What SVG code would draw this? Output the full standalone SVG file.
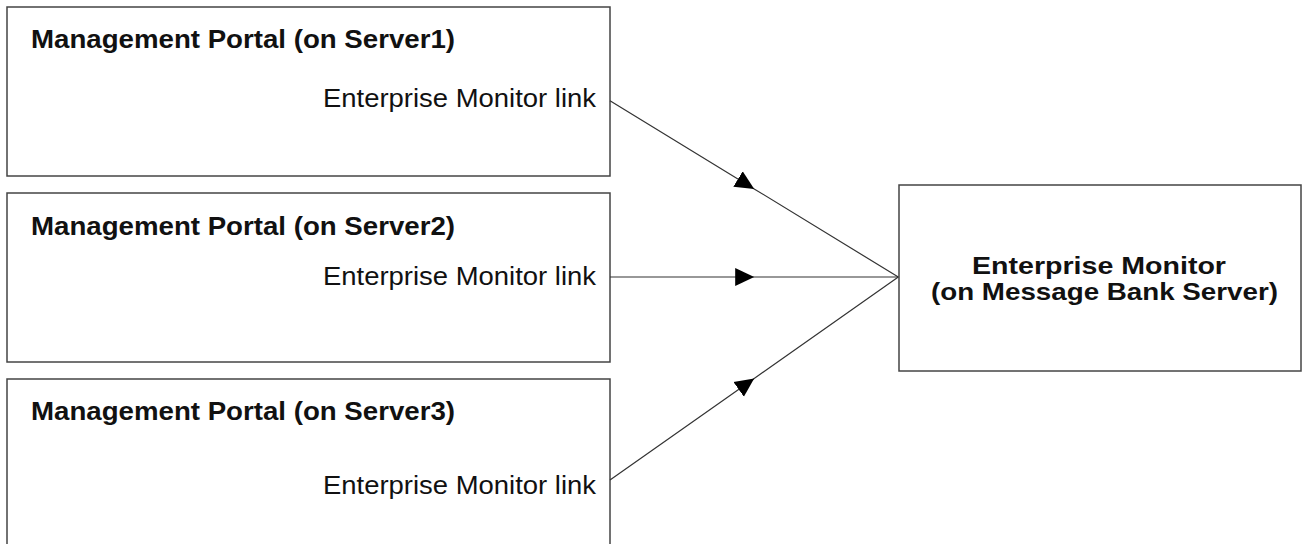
<svg xmlns="http://www.w3.org/2000/svg" width="1304" height="544" viewBox="0 0 1304 544">
<style>
  .box { fill: #ffffff; stroke: #444444; stroke-width: 1.5; }
  .title { font-family: "Liberation Sans", Arial, sans-serif; font-weight: bold; font-size: 26px; fill: #111111; }
  .link { font-family: "Liberation Sans", Arial, sans-serif; font-size: 25px; fill: #111111; }
  .em { font-family: "Liberation Sans", Arial, sans-serif; font-weight: bold; font-size: 24px; fill: #111111; }
  .conn { fill: none; stroke: #333333; stroke-width: 1.2; marker-mid: url(#arrow); }
</style>
<defs>
  <marker id="arrow" markerUnits="userSpaceOnUse" markerWidth="20" markerHeight="20" refX="19" refY="9" orient="auto" viewBox="0 0 20 18">
    <path d="M0,0 L19,9 L0,18 Z" fill="#000000"/>
  </marker>
</defs>
<rect width="1304" height="544" fill="#ffffff"/>
<g id="portal1">
  <rect class="box" x="7" y="7" width="603" height="169"/>
  <text class="title" x="31" y="48" textLength="424" lengthAdjust="spacingAndGlyphs">Management Portal (on Server1)</text>
  <text class="link" x="323" y="107" textLength="273" lengthAdjust="spacingAndGlyphs">Enterprise Monitor link</text>
</g>
<g id="portal2">
  <rect class="box" x="7" y="193" width="603" height="169"/>
  <text class="title" x="31" y="235" textLength="424" lengthAdjust="spacingAndGlyphs">Management Portal (on Server2)</text>
  <text class="link" x="323" y="285" textLength="273" lengthAdjust="spacingAndGlyphs">Enterprise Monitor link</text>
</g>
<g id="portal3">
  <rect class="box" x="7" y="379" width="603" height="169"/>
  <text class="title" x="31" y="420" textLength="424" lengthAdjust="spacingAndGlyphs">Management Portal (on Server3)</text>
  <text class="link" x="323" y="494" textLength="273" lengthAdjust="spacingAndGlyphs">Enterprise Monitor link</text>
</g>
<g id="monitor">
  <rect class="box" x="899" y="185" width="402" height="186"/>
  <text class="em" x="972" y="274" textLength="254" lengthAdjust="spacingAndGlyphs">Enterprise Monitor</text>
  <text class="em" x="931" y="300" textLength="347" lengthAdjust="spacingAndGlyphs">(on Message Bank Server)</text>
</g>
<g id="connectors">
  <path class="conn" d="M610,100.7 L754.2,188.9 L898.3,277"/>
  <path class="conn" d="M610,277 L754.2,277 L898.3,277"/>
  <path class="conn" d="M610,480 L754.2,378.5 L898.3,277"/>
</g>
</svg>
